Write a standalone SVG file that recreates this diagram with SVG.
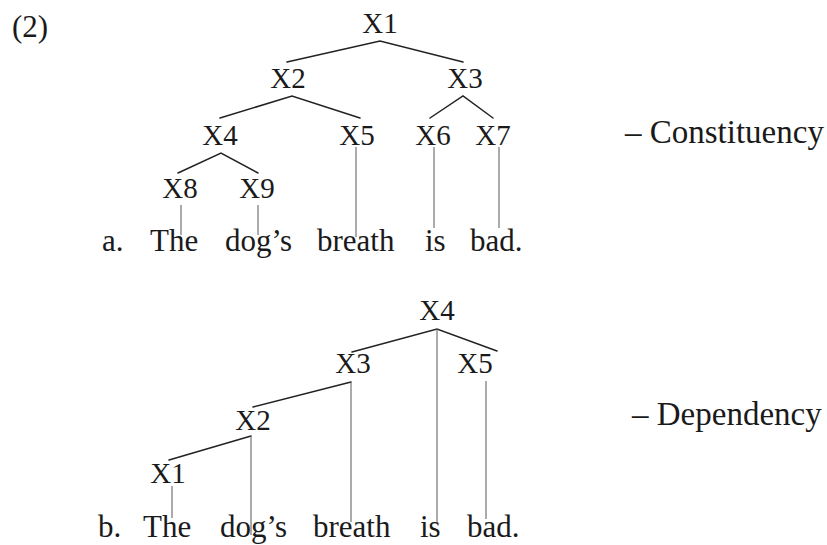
<svg xmlns="http://www.w3.org/2000/svg" width="827" height="545" viewBox="0 0 827 545">
<style>
text{font-family:'Liberation Serif','DejaVu Serif',serif;font-size:31px;fill:#1a1a1a}
.n{text-anchor:middle;font-size:29px}
.s{font-size:33px}
.e{stroke:#222;stroke-width:1.5;fill:none;stroke-linecap:round}
.v{stroke:#666;stroke-width:1.1;fill:none}
</style>
<rect width="827" height="545" fill="#fff"/>
<text x="12" y="37" font-size="29">(2)</text>
<g id="treeA">
<g id="connA">
<polyline class="e" points="287,62 380,41 463,62"/>
<polyline class="e" points="220,118 292,96 360,118"/>
<polyline class="e" points="430,118 463,96 493,118"/>
<polyline class="e" points="178,173 221,153 258,173"/>
<line class="v" x1="356" y1="147" x2="356" y2="237"/>
<line class="v" x1="434" y1="147" x2="434" y2="228"/>
<line class="v" x1="499" y1="147" x2="499" y2="228"/>
<line class="v" x1="181" y1="205" x2="181" y2="235"/>
<line class="v" x1="258" y1="205" x2="258" y2="235"/>
</g>
<g id="a-X1"><text class="n" x="380" y="33">X1</text></g>
<g id="a-X2"><text class="n" x="288" y="88">X2</text></g>
<g id="a-X3"><text class="n" x="465" y="88">X3</text></g>
<g id="a-X4"><text class="n" x="220" y="145">X4</text></g>
<g id="a-X5"><text class="n" x="357" y="145">X5</text></g>
<g id="a-X6"><text class="n" x="433" y="145">X6</text></g>
<g id="a-X7"><text class="n" x="493" y="145">X7</text></g>
<g id="a-X8"><text class="n" x="180" y="198">X8</text></g>
<g id="a-X9"><text class="n" x="257" y="198">X9</text></g>
<g id="a-words">
<text x="102" y="251">a.</text>
<text x="150" y="251">The</text>
<text x="225" y="251">dog’s</text>
<text x="317" y="251">breath</text>
<text x="425" y="251">is</text>
<text x="470" y="251">bad.</text>
</g>
<text class="s" x="625" y="143">– Constituency</text>
</g>
<g id="treeB">
<g id="connB">
<polyline class="e" points="352,352 437,329 497,351"/>
<polyline class="e" points="253,407 351,382"/>
<polyline class="e" points="169,460 251,436"/>
<line class="v" x1="437" y1="329" x2="437" y2="522"/>
<line class="v" x1="351" y1="382" x2="351" y2="522"/>
<line class="v" x1="486" y1="381" x2="486" y2="519"/>
<line class="v" x1="251" y1="436" x2="251" y2="535"/>
<line class="v" x1="172" y1="486" x2="172" y2="518"/>
</g>
<g id="b-X4"><text class="n" x="437" y="320">X4</text></g>
<g id="b-X3"><text class="n" x="353" y="373">X3</text></g>
<g id="b-X5"><text class="n" x="475" y="373">X5</text></g>
<g id="b-X2"><text class="n" x="253" y="430">X2</text></g>
<g id="b-X1"><text class="n" x="168" y="483">X1</text></g>
<g id="b-words">
<text x="98" y="537">b.</text>
<text x="143" y="537">The</text>
<text x="220" y="537">dog’s</text>
<text x="313" y="537">breath</text>
<text x="420" y="537">is</text>
<text x="467" y="537">bad.</text>
</g>
<text class="s" x="632" y="425">– Dependency</text>
</g>
</svg>
